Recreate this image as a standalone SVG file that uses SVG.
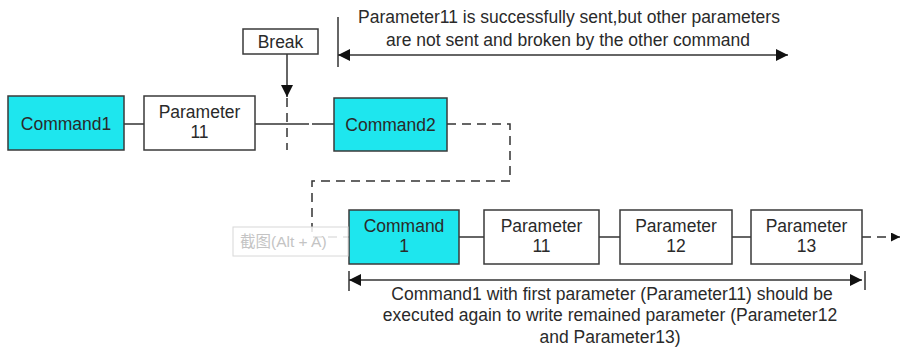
<svg xmlns="http://www.w3.org/2000/svg" width="902" height="349" viewBox="0 0 902 349">
<defs>
<style>
.box{stroke:#3a3a3a;stroke-width:1.5;fill:#fff}
.cmd{fill:#1ee6ee}
.t{font-family:"Liberation Sans",Arial,sans-serif;font-size:17.5px;fill:#2a2a2a;text-anchor:middle}
.ln{stroke:#333;stroke-width:1.5;fill:none}
.dash{stroke:#333;stroke-width:1.5;fill:none;stroke-dasharray:9,6}
</style>
<marker id="ah" viewBox="0 0 10 10" refX="10" refY="5" markerWidth="9" markerHeight="9" markerUnits="userSpaceOnUse" orient="auto-start-reverse">
<path d="M0,0 L10,5 L0,10 z" fill="#111"/>
</marker>
<marker id="ahb" viewBox="0 0 10 10" refX="10" refY="5" markerWidth="12" markerHeight="12" markerUnits="userSpaceOnUse" orient="auto-start-reverse">
<path d="M0,0 L10,5 L0,10 z" fill="#111"/>
</marker>
</defs>
<rect width="902" height="349" fill="#fff"/>

<g id="connectors">
<line class="ln" x1="124" y1="124" x2="144" y2="124"/>
<line class="ln" x1="255" y1="124" x2="309" y2="124"/>
<line class="ln" x1="312" y1="124" x2="334" y2="124"/>
<line class="ln" x1="287" y1="54" x2="287" y2="97" marker-end="url(#ahb)"/>
<line class="dash" x1="287" y1="98" x2="287" y2="150" stroke-dasharray="8,5"/>
<path class="dash" d="M447,124 H510 V181 H312 V237 H349"/>
<line class="ln" x1="459" y1="237" x2="484" y2="237"/>
<line class="ln" x1="599" y1="237" x2="620" y2="237"/>
<line class="ln" x1="732" y1="237" x2="751" y2="237"/>
<line class="dash" x1="862" y1="237" x2="900" y2="237" stroke-dasharray="8,6" marker-end="url(#ah)"/>
<line class="ln" x1="338" y1="17" x2="338" y2="67"/>
<line class="ln" x1="338" y1="55" x2="788" y2="55" marker-start="url(#ahb)" marker-end="url(#ahb)"/>
<line class="ln" x1="349" y1="271" x2="349" y2="291"/>
<line class="ln" x1="865" y1="271" x2="865" y2="290"/>
<line class="ln" x1="349" y1="280" x2="862" y2="280" marker-start="url(#ahb)" marker-end="url(#ahb)"/>
</g>

<g id="break">
<rect class="box" x="243" y="29" width="75" height="25"/>
<text class="t" x="280.5" y="48">Break</text>
</g>
<g id="command1">
<rect class="box cmd" x="8" y="96" width="116" height="54"/>
<text class="t" x="66" y="130">Command1</text>
</g>
<g id="parameter11a">
<rect class="box" x="144" y="96" width="111" height="54"/>
<text class="t" x="199.5" y="118">Parameter</text>
<text class="t" x="199.5" y="138">11</text>
</g>
<g id="command2">
<rect class="box cmd" x="334" y="98" width="113" height="53"/>
<text class="t" x="390.5" y="131">Command2</text>
</g>
<g id="command1b">
<rect class="box cmd" x="349" y="210" width="110" height="54"/>
<text class="t" x="404" y="232">Command</text>
<text class="t" x="404" y="252">1</text>
</g>
<g id="parameter11b">
<rect class="box" x="484" y="210" width="115" height="54"/>
<text class="t" x="541.5" y="232">Parameter</text>
<text class="t" x="541.5" y="252">11</text>
</g>
<g id="parameter12">
<rect class="box" x="620" y="210" width="112" height="54"/>
<text class="t" x="676" y="232">Parameter</text>
<text class="t" x="676" y="252">12</text>
</g>
<g id="parameter13">
<rect class="box" x="751" y="210" width="111" height="54"/>
<text class="t" x="806.5" y="232">Parameter</text>
<text class="t" x="806.5" y="252">13</text>
</g>

<g id="top-note">
<text class="t" x="569" y="23">Parameter11 is successfully sent,but other parameters</text>
<text class="t" x="568" y="46">are not sent and broken by the other command</text>
</g>
<g id="bottom-note">
<text class="t" x="612" y="300">Command1 with first parameter (Parameter11) should be</text>
<text class="t" x="610" y="321">executed again to write remained parameter (Parameter12</text>
<text class="t" x="610" y="343">and Parameter13)</text>
</g>

<g id="overlay">
<rect x="233" y="227" width="115" height="29" fill="#fff" fill-opacity="0.85" stroke="#d8d8d8" stroke-width="1"/>
<text x="240" y="247" font-family="'Liberation Sans','Noto Sans CJK SC',sans-serif" font-size="15.5" fill="#c4c4c4">截图(Alt + A)</text>
</g>
</svg>
